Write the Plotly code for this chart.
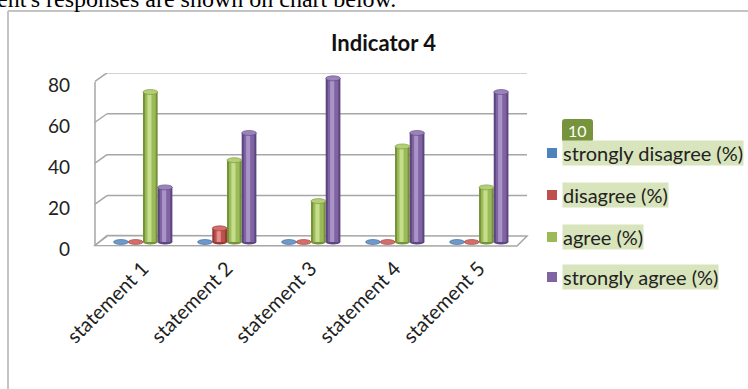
import plotly.graph_objects as go

# ---------------- data ----------------
categories = ["statement 1", "statement 2", "statement 3", "statement 4", "statement 5"]
series_names = ["strongly disagree (%)", "disagree (%)", "agree (%)", "strongly agree (%)"]
strongly_disagree = [0, 0, 0, 0, 0]
disagree = [0, 6.7, 0, 0, 0]
agree = [73.3, 40, 20, 46.7, 26.7]
strongly_agree = [26.7, 53.3, 80, 53.3, 73.3]
y_ticks = [0, 20, 40, 60, 80]
title_text = "Indicator 4"
badge_text = "10"
header_text = "ent's responses are shown on chart below."

series_values = [strongly_disagree, disagree, agree, strongly_agree]

# ---------------- style ----------------
W, H = 748, 389
body = ["#4F81BD", "#C0504D", "#9BBB59", "#8064A2"]
edge = ["#36608f", "#973a37", "#75923a", "#5c4680"]
light = ["#8fb0da", "#e0918d", "#c6de8c", "#a994c8"]
cap = ["#6f98cc", "#d46e6a", "#b2cf74", "#9a82ba"]
grid_col = "#a6a6a6"
FONT = "Lato"

def px(x):
    return x / W

def py(y):
    return 1 - y / H

x_left, x_right = 95, 517          # front floor edge (pixels)
x_back_l, x_back_r = 107, 527      # back wall (pixels)
y_dom_bot, y_dom_top = 247, 73     # y-axis domain (pixels)
x_range = [-0.571, 4.452]
y_range = [-2.44, 82.6]

bar_w = 0.175
n_series = len(series_values)
xs = list(range(len(categories)))

fig = go.Figure()

for k, vals in enumerate(series_values):
    off = -bar_w * n_series / 2 + k * bar_w
    fig.add_trace(go.Bar(x=xs, y=vals, offset=off, width=bar_w,
                         marker=dict(color=edge[k], line=dict(width=0)),
                         name=series_names[k], showlegend=False, hoverinfo="skip"))
    fig.add_trace(go.Bar(x=xs, y=vals, offset=off + bar_w * 0.14, width=bar_w * 0.72,
                         marker=dict(color=body[k], line=dict(width=0)),
                         showlegend=False, hoverinfo="skip"))
    fig.add_trace(go.Bar(x=xs, y=vals, offset=off + bar_w * 0.3, width=bar_w * 0.28,
                         marker=dict(color=light[k], line=dict(width=0)),
                         showlegend=False, hoverinfo="skip"))

shapes = []

# floor (parallelogram)
shapes.append(dict(type="path", xref="paper", yref="paper", layer="below",
                   path=f"M {px(x_left)} {py(245.5)} L {px(x_right)} {py(246)} "
                        f"L {px(x_back_r)} {py(236)} L {px(x_back_l)} {py(235.5)} Z",
                   fillcolor="white", line=dict(color=grid_col, width=1.5)))
# front left wall edge
shapes.append(dict(type="line", xref="paper", yref="paper", layer="below",
                   x0=px(x_left), x1=px(x_left), y0=py(245.5), y1=py(82),
                   line=dict(color=grid_col, width=1.5)))
# grid lines on the back wall + diagonal on left wall
for v in y_ticks:
    shapes.append(dict(type="line", xref="paper", yref="y", layer="below",
                       ysizemode="pixel", yanchor=v, y0=-3, y1=5.5,
                       x0=px(x_left), x1=px(x_back_l),
                       line=dict(color=grid_col, width=1.5)))
    if v != 0:
        shapes.append(dict(type="line", xref="paper", yref="y", layer="below",
                           ysizemode="pixel", yanchor=v, y0=5.5, y1=5.5,
                           x0=px(x_back_l), x1=px(x_back_r),
                           line=dict(color=grid_col, width=1.5)))

# cylinder bottoms and tops
for k, vals in enumerate(series_values):
    off = -bar_w * n_series / 2 + k * bar_w
    for i, v in enumerate(vals):
        x0 = xs[i] + off
        x1 = x0 + bar_w
        if v > 0:
            shapes.append(dict(type="circle", xref="x", yref="y", layer="below",
                               ysizemode="pixel", yanchor=0, y0=-2.5, y1=2.5,
                               x0=x0, x1=x1, fillcolor=edge[k], line=dict(width=0)))
        shapes.append(dict(type="circle", xref="x", yref="y", layer="above",
                           ysizemode="pixel", yanchor=v, y0=-2.5, y1=2.5,
                           x0=x0, x1=x1, fillcolor=cap[k],
                           line=dict(color=edge[k], width=0.6)))

# chart border (top & left)
shapes.append(dict(type="line", xref="paper", yref="paper", x0=px(8), x1=1.0,
                   y0=py(11), y1=py(11), line=dict(color="#c4c4c4", width=2)))
shapes.append(dict(type="line", xref="paper", yref="paper", x0=px(8), x1=px(8),
                   y0=py(11), y1=0.0, line=dict(color="#c4c4c4", width=2)))

# legend markers
legend_rows = [153, 195, 237, 277]
for k, yy in enumerate(legend_rows):
    shapes.append(dict(type="rect", xref="paper", yref="paper",
                       x0=px(547), x1=px(557), y0=py(yy + 5), y1=py(yy - 5),
                       fillcolor=body[k], line=dict(width=0)))

# badge (rounded rectangle)
bx0, bx1, by0, by1, r = 562, 593, 119, 142, 3
badge_path = (f"M {px(bx0 + r)} {py(by0)} L {px(bx1 - r)} {py(by0)} "
              f"Q {px(bx1)} {py(by0)} {px(bx1)} {py(by0 + r)} L {px(bx1)} {py(by1 - r)} "
              f"Q {px(bx1)} {py(by1)} {px(bx1 - r)} {py(by1)} L {px(bx0 + r)} {py(by1)} "
              f"Q {px(bx0)} {py(by1)} {px(bx0)} {py(by1 - r)} L {px(bx0)} {py(by0 + r)} "
              f"Q {px(bx0)} {py(by0)} {px(bx0 + r)} {py(by0)} Z")
shapes.append(dict(type="path", xref="paper", yref="paper", path=badge_path,
                   fillcolor="#77933c", line=dict(width=0)))

annotations = []
annotations.append(dict(text=f"<b>{title_text}</b>", x=px(383), y=py(43), xref="paper", yref="paper",
                        xanchor="center", yanchor="middle",
                        showarrow=False, font=dict(family=FONT, size=22, color="#111")))
annotations.append(dict(text=header_text, x=px(-5), y=py(-1), xref="paper", yref="paper",
                        xanchor="left", yanchor="middle", showarrow=False,
                        font=dict(family="Liberation Serif", size=24, color="#000")))
for k, yy in enumerate(legend_rows):
    annotations.append(dict(text=series_names[k], x=px(562), y=py(yy), xref="paper", yref="paper",
                            xanchor="left", yanchor="middle", showarrow=False,
                            bgcolor="#d8e4bc", borderpad=0,
                            font=dict(family=FONT, size=20, color="#222")))
annotations.append(dict(text=badge_text, x=px(577.5), y=py(130.5), xref="paper", yref="paper",
                        xanchor="center", yanchor="middle", showarrow=False,
                        font=dict(family=FONT, size=16, color="white")))

fig.update_layout(
    width=W, height=H,
    margin=dict(l=0, r=0, t=0, b=0, autoexpand=False),
    paper_bgcolor="white", plot_bgcolor="rgba(0,0,0,0)",
    barmode="overlay",
    showlegend=False,
    shapes=shapes,
    annotations=annotations,
    xaxis=dict(domain=[px(x_left), px(x_right)], range=x_range, automargin=False,
               tickvals=xs, ticktext=categories, tickangle=-45,
               showgrid=False, zeroline=False, showline=False, ticks="",
               ticklabelstandoff=5,
               tickfont=dict(family=FONT, size=20, color="#222"), fixedrange=True),
    yaxis=dict(domain=[py(y_dom_bot), py(y_dom_top)], range=y_range, automargin=False,
               tickvals=y_ticks, showgrid=False, zeroline=False, showline=False, ticks="",
               ticklabelshift=7, ticklabelstandoff=24,
               tickfont=dict(family=FONT, size=19, color="#222"), fixedrange=True),
)

fig.write_html("out.html", config={"displayModeBar": False},
               post_script="document.body.style.margin='0';")
